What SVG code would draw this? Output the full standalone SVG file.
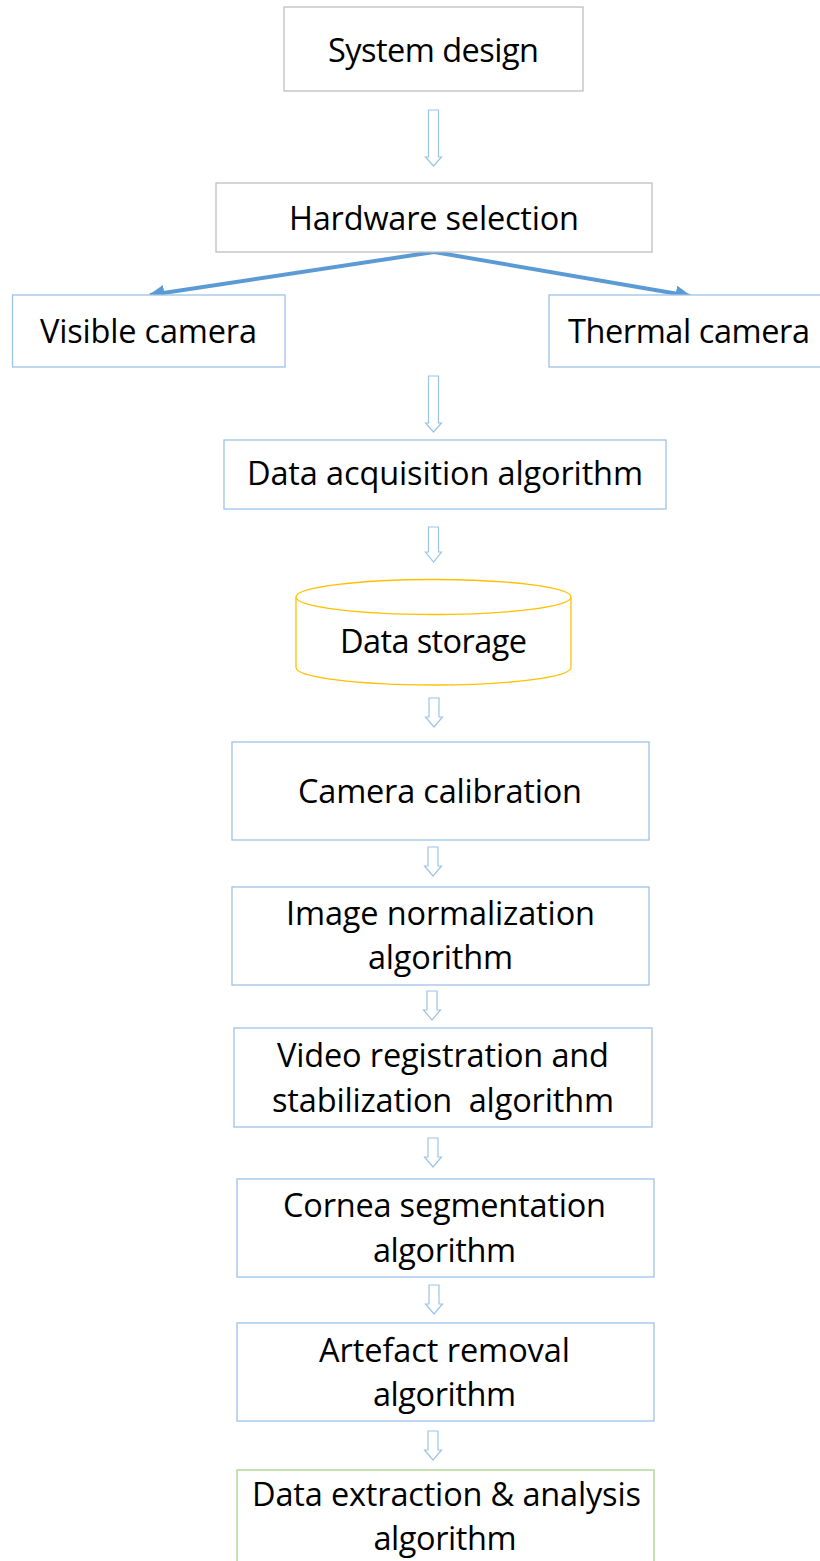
<svg xmlns="http://www.w3.org/2000/svg" width="820" height="1561" viewBox="0 0 820 1561">
  <style>
    .lbl { font-family: "Open Sans", "Noto Sans", "Liberation Sans", sans-serif; font-size: 32.5px; fill: #000; text-anchor: middle; }
    .gray { fill: #fff; stroke: #BFBFBF; stroke-width: 1.3; }
    .blue { fill: #fff; stroke: #9DC3E6; stroke-width: 1.3; }
    .gold { fill: #fff; stroke: #FFC000; stroke-width: 1.3; }
    .green { fill: #fff; stroke: #A9D18E; stroke-width: 1.3; }
    .block { fill: #fff; stroke: #9DC3E6; stroke-width: 1.2; stroke-linejoin: miter; }
    .branch { fill: none; stroke: #5B9BD5; stroke-width: 4; }
  </style>
  <defs>
    <marker id="tri" viewBox="0 0 10 10" refX="9" refY="5" markerWidth="4" markerHeight="4" orient="auto" markerUnits="strokeWidth">
      <path d="M0,0 L10,5 L0,10 z" fill="#5B9BD5"/>
    </marker>
  </defs>
  <rect width="820" height="1561" fill="#fff"/>

  <!-- connectors: hollow block arrows and the two branch arrows -->
  <g id="connectors">
    <path class="block" d="M428.5,110 h10 v47 h3 l-8,9 l-8,-9 h3 z"/>
    <path class="block" d="M428.5,376 h10 v47 h3 l-8,9 l-8,-9 h3 z"/>
    <path class="block" d="M428.5,527 h10 v25 h3 l-8,10 l-8,-10 h3 z"/>
    <path class="block" d="M429,698 h10 v19 h3.5 l-8.5,10 l-8.5,-10 h3.5 z"/>
    <path class="block" d="M428,847 h10 v19 h3.5 l-8.5,10 l-8.5,-10 h3.5 z"/>
    <path class="block" d="M427,991 h10 v19 h3.5 l-8.5,10 l-8.5,-10 h3.5 z"/>
    <path class="block" d="M428,1138 h10 v19 h3.5 l-8.5,10 l-8.5,-10 h3.5 z"/>
    <path class="block" d="M429,1285 h10 v19 h3.5 l-8.5,10 l-8.5,-10 h3.5 z"/>
    <path class="block" d="M428,1431 h10 v19 h3.5 l-8.5,10 l-8.5,-10 h3.5 z"/>
    <line class="branch" x1="434" y1="252" x2="150" y2="295" marker-end="url(#tri)"/>
    <line class="branch" x1="434" y1="252" x2="690" y2="296" marker-end="url(#tri)"/>
  </g>

  <g id="system-design">
    <rect class="gray" x="284" y="7" width="299" height="84"/>
    <text class="lbl" x="433.5" y="62" textLength="211">System design</text>
  </g>

  <g id="hardware-selection">
    <rect class="gray" x="216" y="183" width="436" height="69"/>
    <text class="lbl" x="434" y="230" textLength="290">Hardware selection</text>
  </g>

  <g id="visible-camera">
    <rect class="blue" x="12.5" y="295" width="272.5" height="72"/>
    <text class="lbl" x="148.5" y="343" textLength="217">Visible camera</text>
  </g>

  <g id="thermal-camera">
    <rect class="blue" x="549" y="295" width="290" height="72"/>
    <text class="lbl" x="689" y="343" textLength="242">Thermal camera</text>
  </g>

  <g id="data-acquisition">
    <rect class="blue" x="224" y="440" width="442" height="69"/>
    <text class="lbl" x="445" y="485" textLength="396">Data acquisition algorithm</text>
  </g>

  <g id="data-storage">
    <path class="gold" d="M296,597 V667.5 A137.5,17.5 0 0 0 571,667.5 V597"/>
    <ellipse class="gold" cx="433.5" cy="597" rx="137.5" ry="17.5"/>
    <text class="lbl" x="433.5" y="653" textLength="187">Data storage</text>
  </g>

  <g id="camera-calibration">
    <rect class="blue" x="232" y="742" width="417" height="98"/>
    <text class="lbl" x="440" y="803" textLength="284">Camera calibration</text>
  </g>

  <g id="image-normalization">
    <rect class="blue" x="232" y="887" width="417" height="98"/>
    <text class="lbl" x="440.5" y="925" textLength="309">Image normalization</text>
    <text class="lbl" x="440.5" y="969" textLength="145">algorithm</text>
  </g>

  <g id="video-registration">
    <rect class="blue" x="234" y="1028" width="418" height="99"/>
    <text class="lbl" x="443" y="1067" textLength="332">Video registration and</text>
    <text class="lbl" x="443" y="1112" textLength="342" style="white-space:pre">stabilization  algorithm</text>
  </g>

  <g id="cornea-segmentation">
    <rect class="blue" x="237" y="1179" width="417" height="98"/>
    <text class="lbl" x="444.5" y="1217" textLength="323">Cornea segmentation</text>
    <text class="lbl" x="444.5" y="1262" textLength="143">algorithm</text>
  </g>

  <g id="artefact-removal">
    <rect class="blue" x="237" y="1323" width="417" height="98"/>
    <text class="lbl" x="444.5" y="1362" textLength="251">Artefact removal</text>
    <text class="lbl" x="444.5" y="1406" textLength="143">algorithm</text>
  </g>

  <g id="data-extraction">
    <rect class="green" x="237" y="1470" width="417" height="110"/>
    <text class="lbl" x="446.5" y="1506" textLength="389">Data extraction &amp; analysis</text>
    <text class="lbl" x="445" y="1550" textLength="143">algorithm</text>
  </g>
</svg>
